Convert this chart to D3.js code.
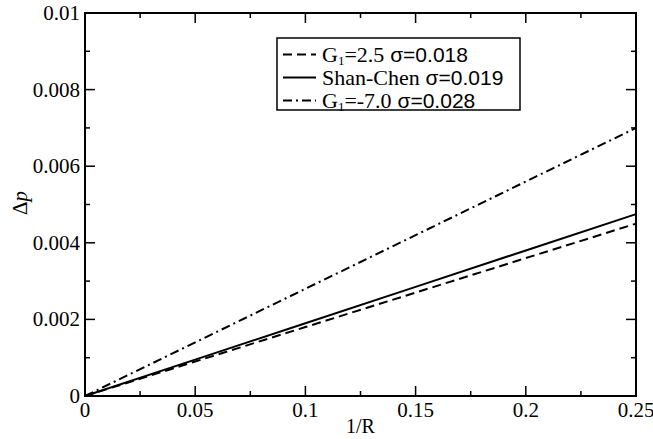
<!DOCTYPE html>
<html>
<head>
<meta charset="utf-8">
<script src="https://cdn.jsdelivr.net/npm/d3@7"></script>
<style>
  html, body { margin: 0; padding: 0; background: #fff; }
  svg { display: block; }
</style>
</head>
<body>
<svg id="chart" width="653" height="439"></svg>
<script>
// Inverse radius samples and pressure jump for each model
const invR = [0, 0.05, 0.1, 0.15, 0.2, 0.25];
const dpG1pos = [0, 0.0009, 0.0018, 0.0027, 0.0036, 0.0045];
const dpShanChen = [0, 0.00095, 0.0019, 0.00285, 0.0038, 0.00475];
const dpG1neg = [0, 0.0014, 0.0028, 0.0042, 0.0056, 0.0070];

const xTicks = [0, 0.05, 0.1, 0.15, 0.2, 0.25];
const xTickLabels = ["0", "0.05", "0.1", "0.15", "0.2", "0.25"];
const yTicks = [0, 0.002, 0.004, 0.006, 0.008, 0.01];
const yTickLabels = ["0", "0.002", "0.004", "0.006", "0.008", "0.01"];

const seriesNames = [
  { g: "1", val: "=2.5", plain: null, sigma: " σ=0.018", dash: "9,5" },
  { g: null, val: null, plain: "Shan-Chen", sigma: " σ=0.019", dash: null },
  { g: "1", val: "=-7.0", plain: null, sigma: " σ=0.028", dash: "9,4,2,4" }
];
const seriesData = [dpG1pos, dpShanChen, dpG1neg];

const SERIF = "'Liberation Serif', 'Times New Roman', 'DejaVu Serif', serif";
const SANS = "'Liberation Sans', Arial, sans-serif";

const svg = d3.select("#chart");
const m = { left: 85, right: 636, top: 13, bottom: 396 };

const x = d3.scaleLinear().domain([0, 0.25]).range([m.left, m.right]);
const y = d3.scaleLinear().domain([0, 0.01]).range([m.bottom, m.top]);

// Tick marks on all four sides, pointing inward
const xMinor = d3.range(0, 0.2501, 0.025);
const yMinor = d3.range(0, 0.01001, 0.001);
const tickG = svg.append("g").attr("stroke", "#000").attr("stroke-width", 1.5);
xMinor.forEach((v, i) => {
  const len = i % 2 === 0 ? 10 : 5;
  tickG.append("line").attr("x1", x(v)).attr("x2", x(v)).attr("y1", m.bottom).attr("y2", m.bottom - len);
  tickG.append("line").attr("x1", x(v)).attr("x2", x(v)).attr("y1", m.top).attr("y2", m.top + len);
});
yMinor.forEach((v, i) => {
  const len = i % 2 === 0 ? 10 : 5;
  tickG.append("line").attr("x1", m.left).attr("x2", m.left + len).attr("y1", y(v)).attr("y2", y(v));
  tickG.append("line").attr("x1", m.right).attr("x2", m.right - len).attr("y1", y(v)).attr("y2", y(v));
});

// Frame
svg.append("rect")
  .attr("x", m.left).attr("y", m.top)
  .attr("width", m.right - m.left).attr("height", m.bottom - m.top)
  .attr("fill", "none").attr("stroke", "#000").attr("stroke-width", 2);

// Tick labels
svg.append("g").selectAll("text").data(xTicks).join("text")
  .attr("font-family", SERIF)
  .attr("x", d => x(d)).attr("y", 417)
  .attr("text-anchor", "middle").attr("font-size", 21)
  .text((d, i) => xTickLabels[i]);

svg.append("g").selectAll("text").data(yTicks).join("text")
  .attr("font-family", SERIF)
  .attr("x", 80).attr("y", d => y(d) + 7)
  .attr("text-anchor", "end").attr("font-size", 21)
  .text((d, i) => yTickLabels[i]);

// Axis titles
svg.append("text").attr("font-family", SERIF)
  .attr("x", (m.left + m.right) / 2).attr("y", 433)
  .attr("text-anchor", "middle").attr("font-size", 20).text("1/R");

const yt = svg.append("text").attr("font-family", SERIF)
  .attr("transform", "translate(27,203) rotate(-90)")
  .attr("text-anchor", "middle").attr("font-size", 21);
yt.append("tspan").text("Δ");
yt.append("tspan").attr("font-style", "italic").text("p");

// Curves
const line = d3.line().x(d => x(d[0])).y(d => y(d[1]));
seriesData.forEach((vals, i) => {
  svg.append("path")
    .datum(invR.map((r, k) => [r, vals[k]]))
    .attr("d", line)
    .attr("fill", "none").attr("stroke", "#000").attr("stroke-width", 2)
    .attr("stroke-dasharray", seriesNames[i].dash);
});

// Legend
const lg = svg.append("g");
lg.append("rect").attr("x", 277).attr("y", 38).attr("width", 243).attr("height", 72)
  .attr("fill", "#fff").attr("stroke", "#000").attr("stroke-width", 1.5);
seriesNames.forEach((s, i) => {
  const cy = 54.5 + i * 23;
  lg.append("line").attr("x1", 283).attr("x2", 316).attr("y1", cy).attr("y2", cy)
    .attr("stroke", "#000").attr("stroke-width", 2)
    .attr("stroke-dasharray", s.dash);
  const t = lg.append("text").attr("x", 322).attr("y", cy + 7).attr("font-size", 22);
  if (s.g) {
    t.append("tspan").attr("font-family", SERIF).text("G");
    t.append("tspan").attr("font-family", SERIF).attr("font-size", 13).attr("dy", 3).text(s.g);
    t.append("tspan").attr("font-family", SERIF).attr("dy", -3).text(s.val);
  } else {
    t.append("tspan").attr("font-family", SERIF).text(s.plain);
  }
  t.append("tspan").attr("font-family", SANS).attr("font-size", 21).text(s.sigma);
});
</script>
</body>
</html>
